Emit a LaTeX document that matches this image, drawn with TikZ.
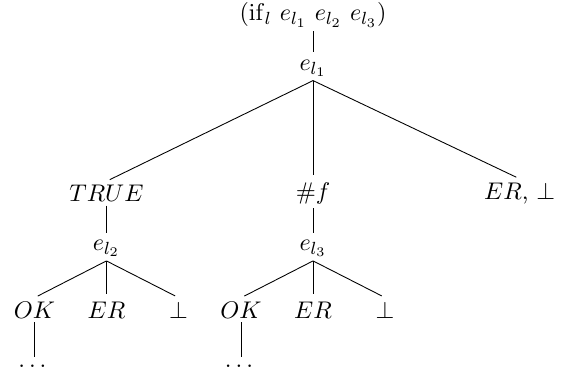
\documentclass[11pt,tikz,border=0pt]{standalone}
\usepackage{amsmath,amssymb}
\usetikzlibrary{positioning}

\begin{document}
\begin{tikzpicture}[
        on grid,
        every node/.style={align=center, inner ysep=1.6pt},
        branch/.style={draw, thin, shorten >=1.7pt}
    ]
        \useasboundingbox (-5.0,0.24) rectangle (4.04,-5.78);

        \node (root) {$(\mathrm{if}_l\ e_{l_1}\ e_{l_2}\ e_{l_3})$};
        \node[below=0.85cm of root] (el1) {$e_{l_1}$};

        \node[below left=2.0cm and 3.3cm of el1] (true) {$TRUE$};
        \node[below=2.0cm of el1] (false) {$\#f$};
        \node[below right=2.0cm and 3.3cm of el1] (erbot) {$ER$, $\bot$};

        \node[below=0.88cm of true] (el2) {$e_{l_2}$};
        \node[below=0.88cm of false] (el3) {$e_{l_3}$};

        \node[below left=0.98cm and 1.15cm of el2] (okA) {$OK$};
        \node[below=0.98cm of el2] (erA) {$ER$};
        \node[below right=0.98cm and 1.15cm of el2] (botA) {$\bot$};

        \node[below left=0.98cm and 1.15cm of el3] (okB) {$OK$};
        \node[below=0.98cm of el3] (erB) {$ER$};
        \node[below right=0.98cm and 1.15cm of el3] (botB) {$\bot$};

        \node[below=0.9cm of okA] (dotsA) {$\dots$};
        \node[below=0.9cm of okB] (dotsB) {$\dots$};

        \draw[branch] (root.south) -- (el1.north);
        \draw[branch] (el1.south) -- (true.north);
        \draw[branch] (el1.south) -- (false.north);
        \draw[branch] (el1.south) -- (erbot.north);
        \draw[branch] (true.south) -- (el2.north);
        \draw[branch] (false.south) -- (el3.north);
        \draw[branch] (el2.south) -- (okA.north);
        \draw[branch] (el2.south) -- (erA.north);
        \draw[branch] (el2.south) -- (botA.north);
        \draw[branch] (el3.south) -- (okB.north);
        \draw[branch] (el3.south) -- (erB.north);
        \draw[branch] (el3.south) -- (botB.north);
        \draw[branch] (okA.south) -- (dotsA.north);
        \draw[branch] (okB.south) -- (dotsB.north);
    \end{tikzpicture}
\end{document}
